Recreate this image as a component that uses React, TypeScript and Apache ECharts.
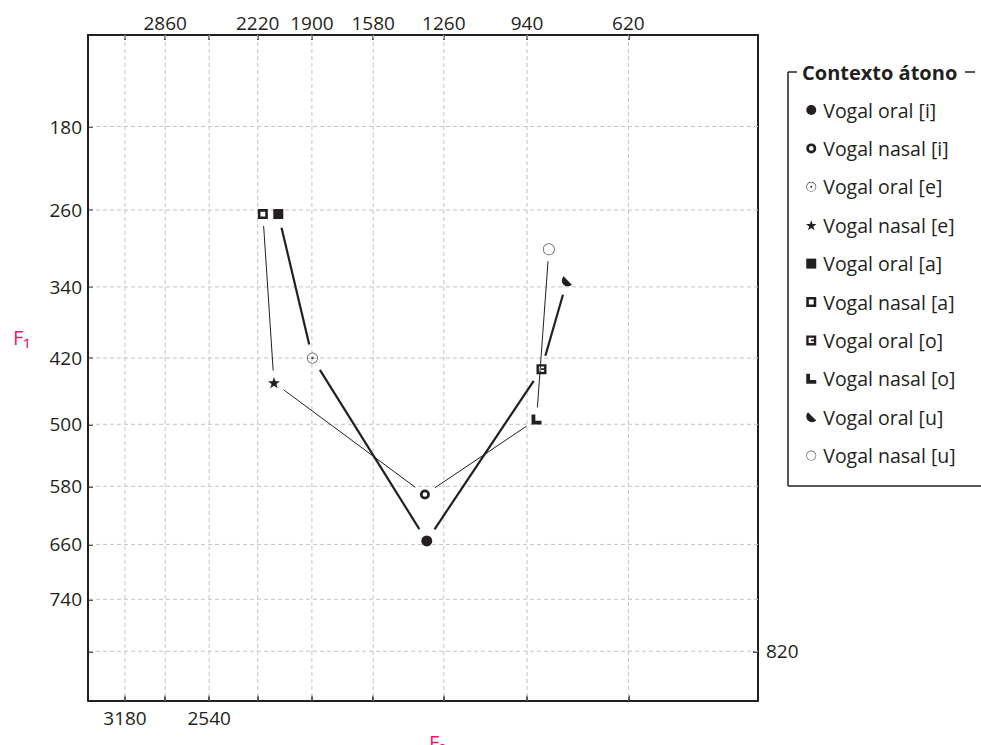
import React, { useEffect, useRef } from "react";
import * as echarts from "echarts";

// ---------- data (Hz) ----------
const VOWELS = ["i", "e", "a", "o", "u"];
const ORAL_F1 = [655, 420, 264, 433, 334];
const ORAL_F2 = [1333, 1897, 2094, 890, 806];
const NASAL_F1 = [591, 449, 264, 494, 300];
const NASAL_F2 = [1341, 2120, 2188, 907, 865];
const PATH_ORDER = ["a", "e", "i", "o", "u"];

const F2_RANGE = [300, 3500];
const F1_RANGE = [100, 900];
const F2_TICKS = [3180, 2860, 2540, 2220, 1900, 1580, 1260, 940, 620];
const F2_TOP_LABELS = [2860, 2220, 1900, 1580, 1260, 940, 620];
const F2_BOTTOM_LABELS = [3180, 2540];
const F1_TICKS = [180, 260, 340, 420, 500, 580, 660, 740, 820];
const F1_LEFT_LABELS = [180, 260, 340, 420, 500, 580, 660, 740];
const F1_RIGHT_LABELS = [820];

const LEGEND_TITLE = "Contexto átono";
const ORAL_NAME = "Vogal oral";
const NASAL_NAME = "Vogal nasal";

// ---------- style ----------
const INK = "#231f20";
const GRID_GRAY = "#c4c4c4";
const PINK = "#e5186f";
const FONT = "'Open Sans', 'Noto Sans', sans-serif";
const TICK_FS = 19;
const LEG_FS = 19.5;

const hzToMel = (f: number) => 2595 * Math.log10(1 + f / 700);
const melToHz = (m: number) => 700 * (Math.pow(10, m / 2595) - 1);

const circ = (r: number, ccw = false) =>
  ccw
    ? `M0,${-r}A${r},${r},0,1,0,0,${r}A${r},${r},0,1,0,0,${-r}Z`
    : `M0,${-r}A${r},${r},0,1,1,0,${r}A${r},${r},0,1,1,0,${-r}Z`;

const SYM = {
  disc: "path://" + circ(10),
  boldRing: "path://" + circ(10) + " " + circ(4.6, true),
  dotRing: "path://" + circ(10) + " " + circ(8.8, true) + " " + circ(2.2),
  star:
    "path://M0,-10L2.35,-3.24L9.51,-3.09L3.8,1.24L5.88,8.09L0,4L-5.88,8.09L-3.8,1.24L-9.51,-3.09L-2.35,-3.24Z",
  square: "path://M0,0H10V10H0Z",
  hollowSquare: "path://M0,0H10V10H0Z M2.6,2.6V7.4H7.4V2.6Z",
  eSquare: "path://M0,0H10V10H0Z M2.4,2.4V7.6H7.6V2.4Z M4.6,4.1H7.6V5.9H4.6Z",
  ell: "path://M0,0H3.8V6.2H10V10H0Z",
  half: "path://M-3.536,-3.536L3.536,3.536A5,5,0,0,1,-3.536,-3.536Z",
  thinRing: "path://" + circ(10) + " " + circ(8.8, true),
};

const SERIES_DEF: { name: string; nasal: boolean; v: string; symbol: string; size: number; color: string }[] = [
  { name: `${ORAL_NAME} [i]`, nasal: false, v: "i", symbol: SYM.disc, size: 11, color: INK },
  { name: `${NASAL_NAME} [i]`, nasal: true, v: "i", symbol: SYM.boldRing, size: 10, color: INK },
  { name: `${ORAL_NAME} [e]`, nasal: false, v: "e", symbol: SYM.dotRing, size: 11, color: "#444" },
  { name: `${NASAL_NAME} [e]`, nasal: true, v: "e", symbol: SYM.star, size: 12, color: INK },
  { name: `${ORAL_NAME} [a]`, nasal: false, v: "a", symbol: SYM.square, size: 10, color: INK },
  { name: `${NASAL_NAME} [a]`, nasal: true, v: "a", symbol: SYM.hollowSquare, size: 10, color: INK },
  { name: `${ORAL_NAME} [o]`, nasal: false, v: "o", symbol: SYM.eSquare, size: 10, color: INK },
  { name: `${NASAL_NAME} [o]`, nasal: true, v: "o", symbol: SYM.ell, size: 10, color: INK },
  { name: `${ORAL_NAME} [u]`, nasal: false, v: "u", symbol: SYM.half, size: 10, color: INK },
  { name: `${NASAL_NAME} [u]`, nasal: true, v: "u", symbol: SYM.thinRing, size: 12, color: "#555" },
];

const point = (nasal: boolean, v: string) => {
  const i = VOWELS.indexOf(v);
  const f2 = nasal ? NASAL_F2[i] : ORAL_F2[i];
  const f1 = nasal ? NASAL_F1[i] : ORAL_F1[i];
  return [hzToMel(f2), hzToMel(f1)];
};

const segments = (nasal: boolean) => {
  const out: number[][] = [];
  for (let k = 0; k < PATH_ORDER.length - 1; k++) {
    const a = point(nasal, PATH_ORDER[k]);
    const b = point(nasal, PATH_ORDER[k + 1]);
    out.push([a[0], a[1], b[0], b[1]]);
  }
  return out;
};

const segmentRenderer = (gap: number, stroke: string, lineWidth: number, dash?: number[]) =>
  (params: any, api: any) => {
    const p1 = api.coord([api.value(0), api.value(1)]);
    const p2 = api.coord([api.value(2), api.value(3)]);
    const dx = p2[0] - p1[0];
    const dy = p2[1] - p1[1];
    const len = Math.hypot(dx, dy) || 1;
    const ux = dx / len;
    const uy = dy / len;
    return {
      type: "line",
      shape: {
        x1: p1[0] + ux * gap,
        y1: p1[1] + uy * gap,
        x2: p2[0] - ux * gap,
        y2: p2[1] - uy * gap,
      },
      style: { stroke, lineWidth, lineDash: dash, fill: null },
    };
  };

export default function App() {
  const ref = useRef<HTMLDivElement>(null);
  useEffect(() => {
    if (!ref.current) return;
    const chart = echarts.init(ref.current, null, { renderer: "svg" });

    const xMin = hzToMel(F2_RANGE[0]);
    const xMax = hzToMel(F2_RANGE[1]);
    const yMin = hzToMel(F1_RANGE[0]);
    const yMax = hzToMel(F1_RANGE[1]);

    const gridData: number[][] = [
      ...F2_TICKS.map((f) => [hzToMel(f), yMin, hzToMel(f), yMax]),
      ...F1_TICKS.map((f) => [xMin, hzToMel(f), xMax, hzToMel(f)]),
    ];

    const labelFmt = (v: number) => String(Math.round(melToHz(v)));
    const axisLine = { show: true, onZero: false, lineStyle: { color: INK, width: 2 } };
    const tick = (vals: number[]) => ({
      show: true,
      inside: true,
      length: 5,
      customValues: vals.map(hzToMel),
      lineStyle: { color: INK, width: 1.5 },
    });
    const label = (vals: number[], margin: number) => ({
      show: true,
      customValues: vals.map(hzToMel),
      formatter: labelFmt,
      color: INK,
      fontSize: TICK_FS,
      fontFamily: FONT,
      margin,
    });

    const xCommon = {
      type: "value",
      min: xMin,
      max: xMax,
      inverse: true,
      splitLine: { show: false },
      axisLine,
    };
    const yCommon = {
      type: "value",
      min: yMin,
      max: yMax,
      inverse: true,
      splitLine: { show: false },
      axisLine,
    };

    const option: any = {
      animation: false,
      backgroundColor: "#ffffff",
      textStyle: { fontFamily: FONT },
      grid: { left: 88, right: 223, top: 35, bottom: 44.5, containLabel: false },
      xAxis: [
        { ...xCommon, position: "top", axisTick: tick(F2_TICKS), axisLabel: label(F2_TOP_LABELS, 3) },
        { ...xCommon, position: "bottom", axisTick: tick(F2_TICKS), axisLabel: label(F2_BOTTOM_LABELS, 8) },
      ],
      yAxis: [
        { ...yCommon, position: "left", axisTick: tick(F1_TICKS), axisLabel: label(F1_LEFT_LABELS, 6) },
        { ...yCommon, position: "right", axisTick: tick(F1_RIGHT_LABELS), axisLabel: label(F1_RIGHT_LABELS, 8) },
      ],
      legend: {
        orient: "vertical",
        left: 801,
        top: 94,
        itemWidth: 14,
        itemHeight: 10,
        itemGap: 16.4,
        selectedMode: false,
        symbolKeepAspect: true,
        textStyle: { color: INK, fontSize: LEG_FS, fontFamily: FONT, lineHeight: 22 },
        data: SERIES_DEF.map((s) => ({ name: s.name, icon: s.symbol })),
      },
      graphic: [
        { type: "line", shape: { x1: 788, y1: 72, x2: 788, y2: 486 }, style: { stroke: INK, lineWidth: 1.5 } },
        { type: "line", shape: { x1: 788, y1: 486, x2: 981, y2: 486 }, style: { stroke: INK, lineWidth: 1.5 } },
        { type: "line", shape: { x1: 788, y1: 72, x2: 797, y2: 72 }, style: { stroke: INK, lineWidth: 1.5 } },
        { type: "line", shape: { x1: 965, y1: 72, x2: 975, y2: 72 }, style: { stroke: INK, lineWidth: 1.5 } },
        {
          type: "text",
          x: 802,
          y: 72,
          style: {
            text: LEGEND_TITLE,
            fill: INK,
            font: `bold 20px ${FONT}`,
            textVerticalAlign: "middle",
            verticalAlign: "middle",
          },
        },
        {
          type: "text",
          x: 13,
          y: 337,
          style: { text: "F₁", fill: PINK, font: `20px ${FONT}`, verticalAlign: "middle", textVerticalAlign: "middle" },
        },
        {
          type: "text",
          x: 429,
          y: 732,
          style: { text: "F₂", fill: PINK, font: `20px ${FONT}`, verticalAlign: "top", textVerticalAlign: "top" },
        },
      ],
      series: [
        {
          type: "custom",
          name: "grid",
          xAxisIndex: 0,
          yAxisIndex: 0,
          z: 1,
          silent: true,
          renderItem: segmentRenderer(0, GRID_GRAY, 1, [4, 3]),
          data: gridData,
        },
        {
          type: "custom",
          name: "oral-path",
          xAxisIndex: 0,
          yAxisIndex: 0,
          z: 2,
          silent: true,
          renderItem: segmentRenderer(14, INK, 2.2),
          data: segments(false),
        },
        {
          type: "custom",
          name: "nasal-path",
          xAxisIndex: 0,
          yAxisIndex: 0,
          z: 2,
          silent: true,
          renderItem: segmentRenderer(12, INK, 1),
          data: segments(true),
        },
        ...SERIES_DEF.map((s) => ({
          type: "scatter",
          name: s.name,
          xAxisIndex: 0,
          yAxisIndex: 0,
          z: 3,
          symbol: s.symbol,
          symbolSize: s.size,
          symbolKeepAspect: true,
          itemStyle: { color: s.color, opacity: 1 },
          data: [point(s.nasal, s.v)],
        })),
      ],
    };

    chart.setOption(option);
    return () => chart.dispose();
  }, []);

  return (
    <div
      ref={ref}
      style={{ position: "fixed", left: 0, top: 0, width: 981, height: 745, background: "#fff" }}
    />
  );
}
